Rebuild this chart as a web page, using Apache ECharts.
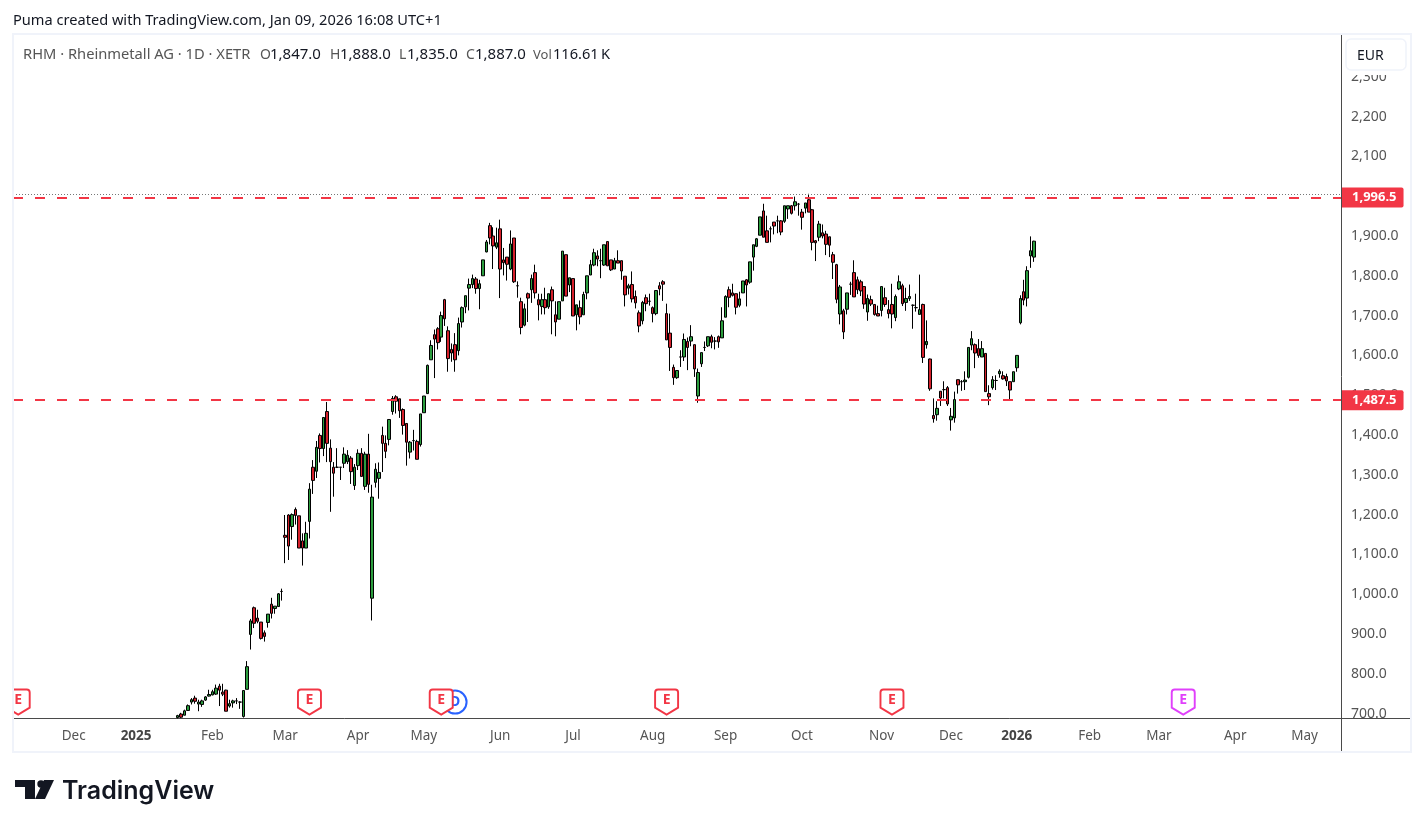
<!DOCTYPE html>
<html>
<head>
<meta charset="utf-8">
<title>RHM daily</title>
<style>html,body{margin:0;padding:0;background:#fff}#c{width:1424px;height:828px}</style>
<script src="https://cdn.jsdelivr.net/npm/echarts@6/dist/echarts.min.js"></script>
</head>
<body>
<div id="c"></div>
<script>
// Daily sessions, each row is [open, close, low, high] in EUR.
const sessionsQ1 = [
[690,695,688,697],[699,691,689,702],[696,707,696,710],[708,720,708,723],[729,735,723,739],[739,731,725,745],[724,729,706,735],[723,732,717,735],[734,742,732,744],[744,748,743,760],
[747,755,746,760],[749,764,747,773],[769,759,719,775],[754,749,744,775],[759,706,706,760],[719,725,715,735],[727,732,715,735],[732,732,724,739],[729,729,712,731],[693,758,690,758],
[761,818,761,832],[899,933,861,938],[966,927,915,969],[940,932,927,961],[930,889,886,930],[903,894,881,909],[929,950,916,950],[975,952,939,991],[964,970,951,970],[969,1001,968,1003],
[1007,1007,984,1014],[1148,1143,1078,1199],[1199,1121,1086,1201],[1170,1200,1137,1203],[1213,1198,1175,1218],[1197,1116,1116,1197],[1134,1116,1072,1153],[1116,1153,1116,1182],[1183,1264,1140,1279]
];
const sessionsQ2 = [
[1319,1286,1252,1337],[1309,1369,1292,1385],[1399,1366,1331,1404],[1366,1444,1347,1444],[1459,1379,1332,1483],[1367,1333,1207,1389],[1319,1304,1245,1332],[1319,1319,1317,1367],[1319,1319,1287,1319],[1329,1352,1317,1369],
[1333,1349,1327,1362],[1342,1308,1277,1347],[1273,1319,1262,1327],[1323,1354,1312,1364],[1354,1296,1296,1367],[1271,1352,1262,1358],[1352,1276,1255,1403],[990,1244,934,1275],[1281,1314,1268,1329],[1291,1306,1240,1331],
[1399,1379,1307,1421],[1379,1359,1342,1399],[1389,1439,1374,1439],[1459,1492,1451,1498],[1496,1485,1454,1500],[1491,1461,1443,1491],[1464,1424,1401,1467],[1429,1382,1323,1429],[1357,1382,1341,1385],[1386,1386,1361,1413],
[1384,1339,1339,1388],[1376,1453,1371,1453],[1456,1498,1456,1498],[1504,1575,1503,1577],[1589,1625,1589,1638],[1652,1641,1543,1665],[1667,1632,1615,1671],[1646,1700,1634,1710],[1740,1692,1674,1742],[1662,1592,1559,1673],
[1615,1606,1584,1630],[1627,1589,1559,1656],[1612,1680,1600,1695],[1684,1720,1670,1723],[1722,1750,1706,1750],[1769,1778,1713,1793],[1778,1793,1769,1803],[1792,1768,1755,1797],[1768,1780,1716,1790],[1800,1840,1800,1840],
[1860,1885,1859,1890],[1926,1895,1879,1933],[1900,1875,1817,1922],[1872,1883,1867,1921],[1918,1817,1744,1941],[1840,1833,1801,1870],[1847,1829,1788,1847],[1817,1880,1814,1914],[1895,1785,1782,1895],[1775,1775,1745,1786]
];
const sessionsQ3 = [
[1735,1670,1653,1745],[1676,1717,1673,1730],[1755,1744,1684,1758],[1765,1793,1732,1803],[1808,1757,1743,1828],[1740,1727,1688,1755],[1723,1740,1703,1755],[1740,1720,1703,1770],[1722,1755,1717,1755],[1765,1737,1653,1773],
[1702,1684,1648,1736],[1691,1735,1691,1735],[1737,1862,1737,1862],[1853,1749,1749,1853],[1777,1795,1759,1795],[1793,1699,1699,1793],[1702,1727,1663,1727],[1720,1697,1678,1738],[1702,1753,1702,1760],[1757,1800,1741,1800],
[1802,1828,1802,1840],[1827,1858,1824,1868],[1850,1842,1824,1864],[1838,1838,1794,1868],[1827,1878,1825,1878],[1886,1825,1825,1886],[1840,1815,1812,1840],[1817,1838,1817,1845],[1838,1832,1832,1864],[1838,1812,1790,1838],
[1799,1752,1723,1799],[1769,1775,1753,1780],[1778,1742,1733,1811],[1748,1732,1718,1763],[1707,1674,1658,1713],[1687,1733,1678,1737],[1745,1730,1711,1753],[1736,1736,1725,1755],[1720,1705,1683,1723],[1705,1763,1701,1763],
[1775,1767,1751,1784],[1785,1779,1737,1789],[1705,1639,1639,1730],[1656,1620,1561,1705],[1570,1544,1526,1577],[1544,1562,1541,1562],[1596,1596,1571,1613],[1596,1640,1586,1655],[1635,1620,1563,1645],[1636,1647,1623,1676],
[1627,1566,1546,1627],[1498,1557,1481,1567],[1579,1607,1571,1607],[1620,1620,1611,1635],[1624,1647,1621,1647],[1647,1633,1618,1652],[1636,1636,1615,1646],[1647,1634,1619,1650],[1644,1687,1644,1721],[1696,1748,1696,1751],
[1765,1746,1721,1773],[1757,1751,1748,1780],[1755,1721,1703,1755],[1726,1742,1721,1760],[1757,1787,1757,1787],[1790,1777,1723,1792],[1784,1835,1780,1835],[1847,1878,1813,1878],[1874,1893,1872,1895],[1902,1948,1902,1948]
];
const sessionsQ4 = [
[1963,1897,1897,1981],[1913,1884,1884,1951],[1918,1918,1884,1924],[1935,1925,1904,1935],[1938,1938,1907,1951],[1938,1910,1902,1940],[1937,1976,1933,1976],[1968,1976,1943,1976],[1976,1957,1954,1978],[1976,1986,1964,1999],
[1980,1980,1951,1983],[1960,1947,1916,1968],[1970,1983,1957,1983],[1991,1960,1960,2006],[1966,1884,1864,1968],[1888,1883,1837,1890],[1897,1930,1887,1938],[1908,1900,1894,1929],[1905,1879,1852,1913],[1898,1877,1847,1898],
[1853,1834,1792,1860],[1828,1741,1731,1830],[1704,1772,1678,1777],[1712,1659,1641,1717],[1716,1757,1703,1757],[1779,1779,1752,1785],[1808,1747,1747,1839],[1790,1765,1754,1798],[1785,1762,1749,1790],[1773,1729,1717,1773],
[1709,1743,1687,1753],[1740,1729,1724,1750],[1728,1703,1700,1728],[1705,1699,1699,1725],[1713,1773,1698,1773],[1745,1728,1722,1770],[1715,1705,1693,1739],[1728,1704,1668,1780],[1695,1748,1686,1753],[1767,1785,1764,1801],
[1775,1730,1724,1780],[1733,1743,1712,1770],[1743,1748,1737,1778],[1726,1726,1667,1728],[1720,1720,1710,1755],[1703,1715,1703,1803],[1728,1595,1581,1730],[1627,1635,1617,1688],[1591,1516,1511,1592],[1449,1441,1431,1492]
];
const sessionsRecent = [
[1451,1467,1436,1485],[1510,1493,1473,1510],[1514,1514,1492,1535],[1519,1478,1473,1523],[1438,1447,1411,1468],[1443,1489,1431,1509],[1539,1526,1504,1539],[1534,1534,1511,1538],[1534,1538,1513,1560],[1545,1620,1542,1620],
[1626,1642,1613,1661],[1627,1606,1568,1630],[1617,1600,1594,1641],[1596,1617,1596,1636],[1605,1509,1509,1605],[1504,1496,1475,1525],[1519,1539,1514,1548],[1537,1537,1513,1550],[1554,1560,1544,1565],[1549,1541,1539,1560],
[1547,1536,1523,1554],[1534,1513,1488,1534],[1534,1559,1534,1559],[1569,1600,1559,1600],[1682,1743,1678,1751],[1760,1739,1726,1790],[1744,1813,1723,1824],[1850,1863,1820,1899],[1847,1887,1835,1888]
];

// Time scale: sessions before the first bar and after the last one stay empty.
const leadingSlots = 47;
const totalSlots = 383;
const monthTickSlots = [17,35,57,78,99,118,140,161,184,205,227,250,270,289,310,330,352,372];
const monthTickNames = ['Dec','2025','Feb','Mar','Apr','May','Jun','Jul','Aug','Sep','Oct','Nov','Dec','2026','Feb','Mar','Apr','May'];

// Price scale.
const priceTicks  = [700,800,900,1000,1100,1200,1300,1400,1500,1600,1700,1800,1900,2000,2100,2200,2300];
const priceLabels = ['700.0','800.0','900.0','1,000.0','1,100.0','1,200.0','1,300.0','1,400.0','1,500.0','1,600.0','1,700.0','1,800.0','1,900.0','2,000.0','2,100','2,200','2,300'];

// Horizontal levels drawn on the chart.
const levels = [1996.5, 1487.5];

// Corporate events by session slot.
const earningsPast = [1,85,123,188,253];
const earningsNext = [337];
const dividendSlots = [127];

const lastVolume = '116.61\u2009K';

const FONT = '"Noto Sans", sans-serif';
const RED = '#f23645';
const FRAME = '#f0f3fa';
const AXIS_LINE = '#4a4a4a';
const MARKER_PRICE = 729;

const shield = 'path://M3,0 L20,0 Q23,0 23,3 L23,18 L11.5,25 L0,18 L0,3 Q0,0 3,0 Z';

const sessions = [].concat(sessionsQ1, sessionsQ2, sessionsQ3, sessionsQ4, sessionsRecent);
const slots = Array.from({length: totalSlots}, (_, i) => String(i));
const bars = slots.map((_, i) => {
  const row = sessions[i - leadingSlots];
  return row ? row : '-';
});
const last = sessions[sessions.length - 1];
const topHigh = Math.max.apply(null, sessions.map(r => r[3]));

const fmt = v => v.toLocaleString('en-US', {minimumFractionDigits: 1, maximumFractionDigits: 1});

function eventMarkers(list, color) {
  return {
    type: 'scatter',
    data: list.map(s => [String(s), MARKER_PRICE]),
    symbol: shield,
    symbolSize: [23, 25],
    z: 6,
    silent: true,
    itemStyle: {color: '#fff', borderColor: color, borderWidth: 2, opacity: 1},
    label: {show: true, position: 'inside', formatter: 'E', color: color, fontFamily: FONT, fontWeight: 'bold', fontSize: 14, offset: [0, -2]}
  };
}

function levelLine(value) {
  return {
    yAxis: value,
    lineStyle: {color: RED, width: 2, type: [10, 12]},
    label: {
      show: true, position: 'end', distance: 1, formatter: fmt(value),
      backgroundColor: RED, color: '#fff', fontFamily: FONT, fontWeight: 'bold', fontSize: 13,
      padding: [4, 7, 3, 10], borderRadius: [0, 2, 2, 0]
    }
  };
}

function headerText(x, y, text, color, size) {
  return {type: 'text', x: x, y: y, z: 100, style: {text: text, fill: color, font: (size || 14.6) + 'px ' + FONT, textVerticalAlign: 'middle'}};
}

const chart = echarts.init(document.getElementById('c'), null, {renderer: 'canvas', width: 1424, height: 828});
chart.setOption({
  animation: false,
  backgroundColor: '#fff',
  grid: {left: 13, right: 83, top: 35, bottom: 110, containLabel: false},
  xAxis: {
    type: 'category',
    data: slots,
    boundaryGap: true,
    axisLine: {show: true, lineStyle: {color: AXIS_LINE, width: 1}},
    axisTick: {show: false},
    splitLine: {show: false},
    axisLabel: {
      interval: i => monthTickSlots.indexOf(i) >= 0,
      margin: 11,
      color: '#555',
      fontFamily: FONT,
      fontSize: 13.5,
      formatter: (v, i) => {
        const name = monthTickNames[monthTickSlots.indexOf(i)];
        return /^\d+$/.test(name) ? '{yr|' + name + '}' : name;
      },
      rich: {yr: {fontWeight: 'bold', color: '#444', fontFamily: FONT, fontSize: 13.5}}
    }
  },
  yAxis: {
    type: 'value',
    position: 'right',
    min: 689,
    max: 2405,
    axisLine: {show: true, onZero: false, lineStyle: {color: AXIS_LINE, width: 1}},
    axisTick: {show: false},
    splitLine: {show: false},
    axisLabel: {
      customValues: priceTicks,
      margin: 10,
      padding: [2, 0, 0, 0],
      color: '#555',
      fontFamily: FONT,
      fontSize: 14,
      formatter: v => priceLabels[priceTicks.indexOf(v)]
    }
  },
  series: [
    {
      type: 'candlestick',
      data: bars,
      barWidth: 3,
      silent: true,
      itemStyle: {color: '#2b9d3e', color0: '#d5202b', borderColor: '#000', borderColor0: '#000', borderColorDoji: '#000', borderWidth: 1},
      markLine: {
        silent: true,
        symbol: 'none',
        animation: false,
        z: 8,
        data: [
          {yAxis: topHigh, lineStyle: {color: '#777', width: 1, type: [1, 2]}, label: {show: false}}
        ].concat(levels.map(levelLine))
      }
    },
    {
      type: 'scatter',
      data: dividendSlots.map(s => [String(s), MARKER_PRICE]),
      symbol: 'circle',
      symbolSize: 23,
      z: 5,
      silent: true,
      itemStyle: {color: '#fff', borderColor: '#2962ff', borderWidth: 2, opacity: 1},
      label: {show: true, position: 'inside', formatter: 'D', color: '#2962ff', fontFamily: FONT, fontWeight: 'bold', fontSize: 14}
    },
    eventMarkers(earningsPast, RED),
    eventMarkers(earningsNext, '#e040fb')
  ],
  graphic: [
    // the first earnings flag is cut off by the plot's left edge
    {type: 'rect', z: 50, shape: {x: 0, y: 680, width: 13, height: 40}, style: {fill: '#fff'}},
    // chart frame and the axis lines running past the plot
    {type: 'rect', z: 51, shape: {x: 13, y: 34, width: 1398, height: 718}, style: {fill: 'none', stroke: FRAME, lineWidth: 2}},
    {type: 'line', z: 4, shape: {x1: 1341, y1: 718.5, x2: 1411, y2: 718.5}, style: {stroke: AXIS_LINE, lineWidth: 1}},
    {type: 'line', z: 4, shape: {x1: 1341.5, y1: 718, x2: 1341.5, y2: 752}, style: {stroke: AXIS_LINE, lineWidth: 1}},
    // currency button sits above the price labels
    {type: 'rect', z: 90, shape: {x: 1342.5, y: 36, width: 67, height: 39}, style: {fill: '#fff'}},
    {type: 'rect', z: 91, shape: {x: 1346, y: 39, width: 60, height: 31, r: 5}, style: {fill: '#fff', stroke: FRAME, lineWidth: 1.5}},
    headerText(1357, 56, 'EUR', '#131722', 14),
    // caption and the symbol line
    headerText(13, 21, 'Puma created with TradingView.com, Jan 09, 2026 16:08 UTC+1', '#131722'),
    headerText(23, 55, 'RHM \u00b7 Rheinmetall AG \u00b7 1D \u00b7 XETR', '#555', 14.7),
    headerText(260, 55, 'O', '#555', 14), headerText(270, 55, fmt(last[0]), '#131722', 15),
    headerText(330, 55, 'H', '#555', 14), headerText(340, 55, fmt(last[3]), '#131722', 15),
    headerText(399, 55, 'L', '#555', 14), headerText(407, 55, fmt(last[2]), '#131722', 15),
    headerText(466, 55, 'C', '#555', 14), headerText(475, 55, fmt(last[1]), '#131722', 15),
    headerText(533, 55, 'Vol', '#555', 13), headerText(553, 55, lastVolume, '#131722', 14.6),
    // wordmark under the chart
    {type: 'polygon', shape: {points: [[15,780],[35,780],[35,799],[25,799],[25,787],[15,787]]}, style: {fill: '#131722'}},
    {type: 'circle', shape: {cx: 41, cy: 784, r: 3.7}, style: {fill: '#131722'}},
    {type: 'polygon', shape: {points: [[44,780],[54,780],[45,799],[35,799]]}, style: {fill: '#131722'}},
    {type: 'text', x: 62, y: 791, style: {text: 'TradingView', fill: '#131722', font: '600 25px Inter, sans-serif', textVerticalAlign: 'middle'}}
  ]
});
</script>
</body>
</html>
